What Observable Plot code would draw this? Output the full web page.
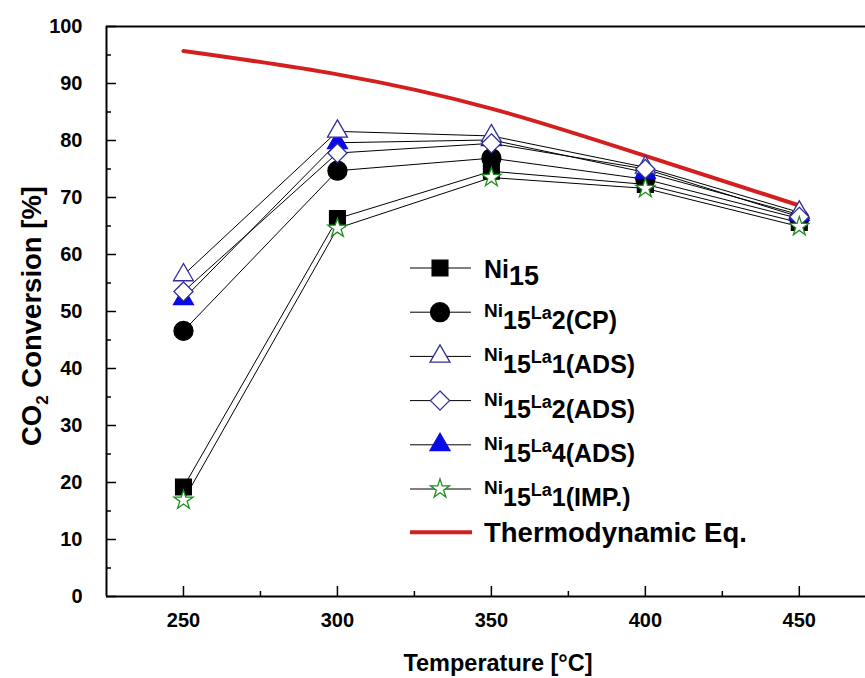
<!DOCTYPE html>
<html><head><meta charset="utf-8">
<script src="https://cdn.jsdelivr.net/npm/d3@7"></script>
<script src="https://cdn.jsdelivr.net/npm/@observablehq/plot@0.6"></script>
<style>
html,body{margin:0;padding:0;background:#fff;}
#chart svg{display:block;}
</style></head><body><div id="chart"></div>
<script>
// ---- data ----
const temperatures = [250, 300, 350, 400, 450];
const ni15        = [19.2, 66.3, 74.6, 72.3, 65.6];
const ni15La2CP   = [46.6, 74.7, 76.9, 73.2, 66.3];
const ni15La1ADS  = [56.4, 81.6, 80.8, 75.3, 67.4];
const ni15La2ADS  = [53.5, 77.8, 79.5, 75.0, 66.6];
const ni15La4ADS  = [52.2, 79.6, 80.1, 74.4, 67.0];
const ni15La1IMP  = [16.9, 64.6, 73.5, 71.6, 64.9];
const thermoTemps = [250, 300, 350, 400, 450];
const thermoEq    = [95.7, 91.6, 85.6, 77.3, 68.6];
const xTicks = [250, 300, 350, 400, 450];
const xMinorTicks = [275, 325, 375, 425];
const yTicks = [0, 10, 20, 30, 40, 50, 60, 70, 80, 90, 100];
const yMinorTicks = [5, 15, 25, 35, 45, 55, 65, 75, 85, 95];

// ---- styles ----
const navy = "#2f2f96", blue = "#0a0ae6", green = "#1f8f1f", red = "#d41f1f";
const series = [
  {key: "Ni15",    values: ni15,       symbol: "square",   r: 8.9, fill: "black", stroke: "black"},
  {key: "CP",      values: ni15La2CP,  symbol: "circle",   r: 9.5, fill: "black", stroke: "black"},
  {key: "ADS4",    values: ni15La4ADS, symbol: "triangle", r: 7.4, fill: blue,    stroke: blue},
  {key: "ADS1",    values: ni15La1ADS, symbol: "triangle", r: 7.4, fill: "white", stroke: navy},
  {key: "ADS2",    values: ni15La2ADS, symbol: "diamond2", r: 8.6, fill: "white", stroke: navy},
  {key: "IMP",     values: ni15La1IMP, symbol: "star",     r: 6.0, fill: "white", stroke: green}
];
const rows = series.flatMap(s => temperatures.map((t, i) => ({series: s.key, t, v: s.values[i]})));
const thermo = thermoTemps.map((t, i) => ({t, v: thermoEq[i]}));

const W = 865, H = 678, mL = 106, mR = 0, mT = 26, mB = 82;
const xDomain = [225, 471.5];
const innerW = W - mL - mR, innerH = H - mT - mB;
const FONT = "'Liberation Sans', Arial, Helvetica, sans-serif";

const marks = [
  // inward ticks
  Plot.tickX(xTicks, {x: d => d, insetTop: innerH - 10, stroke: "black", strokeWidth: 1.5}),
  Plot.tickX(xMinorTicks, {x: d => d, insetTop: innerH - 5, stroke: "black", strokeWidth: 1.5}),
  Plot.tickY(yTicks, {y: d => d, insetRight: innerW - 10, stroke: "black", strokeWidth: 1.5}),
  Plot.tickY(yMinorTicks, {y: d => d, insetRight: innerW - 5, stroke: "black", strokeWidth: 1.5}),
  // frame
  Plot.ruleY([0, 100], {stroke: "black", strokeWidth: 2}),
  Plot.ruleX([xDomain[0]], {stroke: "black", strokeWidth: 2}),
  Plot.axisX({ticks: xTicks, tickSize: 0, tickPadding: 16, fontSize: 20, fontWeight: "bold", label: null, tickFormat: d => String(d)}),
  Plot.axisY({ticks: yTicks, tickSize: 0, tickPadding: 24, fontSize: 20, fontWeight: "bold", label: null, tickFormat: d => String(d)}),
  // thermodynamic equilibrium
  Plot.line(thermo, {x: "t", y: "v", stroke: red, strokeWidth: 4, curve: "natural"}),
];
for (const s of series) {
  const d = rows.filter(r => r.series === s.key);
  marks.push(Plot.line(d, {x: "t", y: "v", stroke: "black", strokeWidth: 1}));
}
for (const s of series) {
  const d = rows.filter(r => r.series === s.key);
  marks.push(Plot.dot(d, {x: "t", y: "v", symbol: s.symbol, r: s.r, fill: s.fill, stroke: s.stroke, strokeWidth: 1.3}));
}

const svg = Plot.plot({
  width: W, height: H,
  marginLeft: mL, marginRight: mR, marginTop: mT, marginBottom: mB,
  x: {domain: xDomain},
  y: {domain: [0, 100]},
  style: {fontFamily: FONT, color: "black", background: "white", overflow: "visible"},
  marks
});
document.getElementById("chart").appendChild(svg);

// ---- axis titles ----
const g = d3.select(svg).append("g").attr("font-family", FONT).attr("font-weight", "bold").attr("fill", "black");
const yl = g.append("text").attr("transform", "translate(41,316) rotate(-90)").attr("text-anchor", "middle").attr("font-size", 27.5);
yl.append("tspan").text("CO");
yl.append("tspan").attr("font-size", 17).attr("dy", 7).text("2");
yl.append("tspan").attr("dy", -7).text(" Conversion [%]");
g.append("text").attr("x", 498).attr("y", 671).attr("text-anchor", "middle").attr("font-size", 23.5).text("Temperature [°C]");

// ---- legend ----
const legendItems = [
  {key: "Ni15", label: [["Ni", 25, 10], ["15", 27, 17]]},
  {key: "CP",   label: [["Ni", 19, 5], ["15", 25, 17], ["La", 18, 7], ["2(CP)", 25, 17]]},
  {key: "ADS1", label: [["Ni", 19, 5], ["15", 25, 17], ["La", 18, 7], ["1(ADS)", 25, 17]]},
  {key: "ADS2", label: [["Ni", 19, 5], ["15", 25, 17], ["La", 18, 7], ["2(ADS)", 25, 17]]},
  {key: "ADS4", label: [["Ni", 19, 5], ["15", 25, 17], ["La", 18, 7], ["4(ADS)", 25, 17]]},
  {key: "IMP",  label: [["Ni", 19, 5], ["15", 25, 17], ["La", 18, 7], ["1(IMP.)", 25, 17]]},
];
const symMap = {square: d3.symbolSquare, circle: d3.symbolCircle, triangle: d3.symbolTriangle, diamond2: d3.symbolDiamond2, star: d3.symbolStar};
const lg = d3.select(svg).append("g").attr("text-anchor", "start");
const rowY0 = 268, rowStep = 44.2, lx0 = 410, lx1 = 471, lxm = 440, tx = 484;
legendItems.forEach((item, i) => {
  const s = series.find(d => d.key === item.key);
  const y = rowY0 + i * rowStep;
  lg.append("line").attr("x1", lx0).attr("x2", lx1).attr("y1", y).attr("y2", y).attr("stroke", "black").attr("stroke-width", 1);
  lg.append("path").attr("transform", `translate(${lxm},${y})`)
    .attr("d", d3.symbol(symMap[s.symbol], Math.PI * s.r * s.r)())
    .attr("fill", s.fill).attr("stroke", s.stroke).attr("stroke-width", 1.3);
  const t = lg.append("text").attr("x", tx).attr("text-anchor", "start").attr("font-family", FONT).attr("font-weight", "bold").attr("fill", "black");
  item.label.forEach(([txt, fs, dy]) => t.append("tspan").attr("y", y + dy).attr("font-size", fs).attr("text-anchor", "start").text(txt));
});
const ty = rowY0 + 6 * rowStep - 1;
lg.append("line").attr("x1", lx0).attr("x2", lx1 + 1).attr("y1", ty).attr("y2", ty).attr("stroke", red).attr("stroke-width", 4);
lg.append("text").attr("x", tx).attr("y", ty + 10).attr("text-anchor", "start").attr("font-family", FONT).attr("font-weight", "bold").attr("font-size", 27.5).attr("fill", "black").text("Thermodynamic Eq.");
</script></body></html>
